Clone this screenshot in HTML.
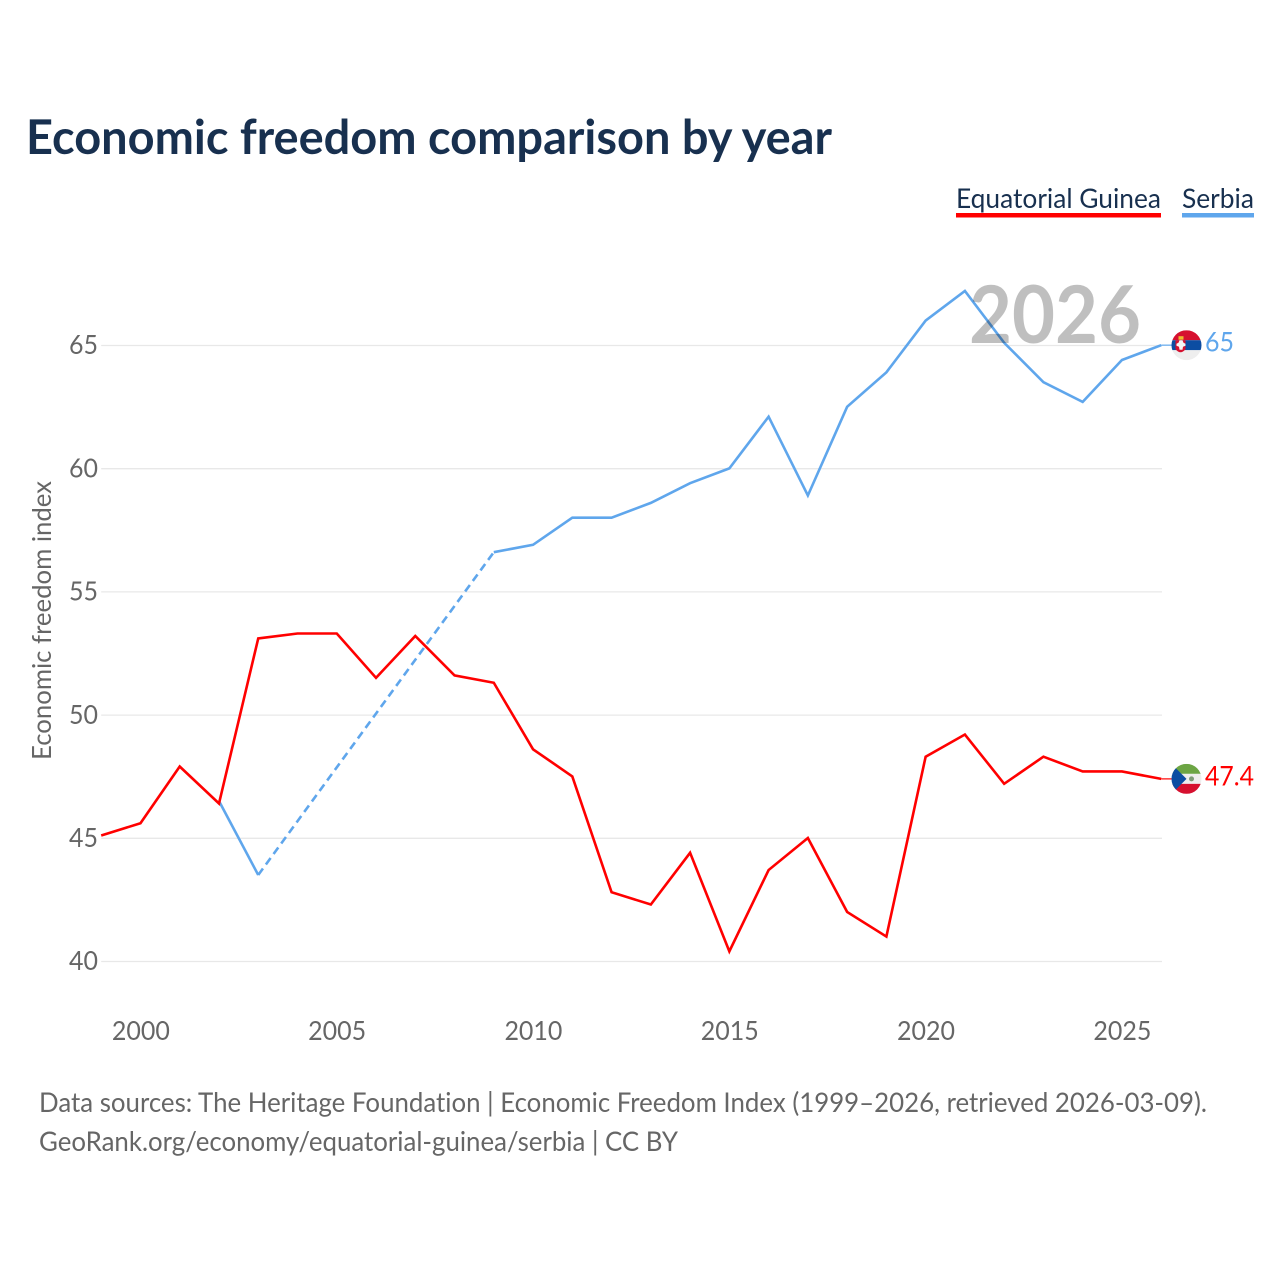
<!DOCTYPE html>
<html lang="en">
<head>
<meta charset="utf-8">
<title>Economic freedom comparison by year</title>
<style>
html,body{margin:0;padding:0;background:#fff}
svg{display:block}
text{font-family:"Lato","Carlito","Liberation Sans",sans-serif;font-variant-ligatures:none;font-feature-settings:"liga" 0,"clig" 0}
</style>
</head>
<body>
<svg id="chart" xmlns="http://www.w3.org/2000/svg" width="1280" height="1280" viewBox="0 0 1280 1280">
  <defs>
    <clipPath id="flag-clip"><circle cx="0" cy="0" r="15"/></clipPath>
  </defs>
  <rect width="1280" height="1280" fill="#fff"/>
  <text x="26" y="154" font-size="48" font-weight="700" fill="#18304f" textLength="806" lengthAdjust="spacingAndGlyphs">Economic freedom comparison by year</text>

  <g>
    <text x="956" y="208" font-size="27" fill="#18304f" textLength="205" lengthAdjust="spacingAndGlyphs">Equatorial Guinea</text>
    <rect x="956" y="213" width="205" height="4.5" fill="#ff0000"/>
  </g>
  <g>
    <text x="1182" y="208" font-size="27" fill="#18304f" textLength="72" lengthAdjust="spacingAndGlyphs">Serbia</text>
    <rect x="1182" y="213" width="72" height="4.5" fill="#5fa6ec"/>
  </g>

  <text transform="translate(51,620.5) rotate(-90)" text-anchor="middle" font-size="26" fill="#666" textLength="279" lengthAdjust="spacingAndGlyphs">Economic freedom index</text>

  <g id="grid"></g>
  <g id="y-ticks"></g>
  <g id="x-ticks"></g>
  <g id="series"></g>

  <text x="969" y="343" font-size="80" font-weight="700" fill="#000" fill-opacity="0.25" textLength="172" lengthAdjust="spacingAndGlyphs">2026</text>

  <g id="end-markers">
    <g id="flag-serbia" clip-path="url(#flag-clip)">
      <rect x="-15" y="-15" width="30" height="10" fill="#d6102f"/>
      <rect x="-15" y="-5" width="30" height="10" fill="#0c4da2"/>
      <rect x="-15" y="5" width="30" height="10" fill="#eeeeee"/>
      <path d="M-11 -5h10v9q-5 6 -10 0z" fill="#d6102f"/>
      <path d="M-7 -5h3l1 2.500l2 1v2l-2.500 1l-.5 3h-3l-.5 -3l-2.500 -1v-2l2 -1z" fill="#f6f6f6"/>
      <rect x="-8" y="-9" width="5" height="3.500" fill="#edb92e"/>
    </g>
    <g id="flag-equatorial-guinea" clip-path="url(#flag-clip)">
      <rect x="-15" y="-15" width="30" height="10" fill="#6ca544"/>
      <rect x="-15" y="-5" width="30" height="10" fill="#eeeeee"/>
      <rect x="-15" y="5" width="30" height="10" fill="#d6102f"/>
      <path d="M-15 -15L0 0L-15 15z" fill="#0c4da2"/>
      <circle cx="5" cy="0" r="2.500" fill="#7f9c78"/>
    </g>
    <text id="value-serbia" font-size="27" fill="#5fa6ec"></text>
    <text id="value-equatorial-guinea" font-size="27" fill="#ff0000"></text>
  </g>

  <text x="39" y="1112" font-size="27" fill="#666" textLength="1168" lengthAdjust="spacingAndGlyphs">Data sources: The Heritage Foundation | Economic Freedom Index (1999–2026, retrieved 2026-03-09).</text>
  <text x="39" y="1151" font-size="27" fill="#666" textLength="639" lengthAdjust="spacingAndGlyphs">GeoRank.org/economy/equatorial-guinea/serbia | CC BY</text>

<script>
const years = [1999,2000,2001,2002,2003,2004,2005,2006,2007,2008,2009,2010,2011,2012,2013,2014,2015,2016,2017,2018,2019,2020,2021,2022,2023,2024,2025,2026];
const equatorialGuinea = [45.1,45.6,47.9,46.4,53.1,53.3,53.3,51.5,53.2,51.6,51.3,48.6,47.5,42.8,42.3,44.4,40.4,43.7,45.0,42.0,41.0,48.3,49.2,47.2,48.3,47.7,47.7,47.4];
const serbia = [null,null,null,46.5,43.5,null,null,null,null,null,56.6,56.9,58.0,58.0,58.6,59.4,60.0,62.1,58.9,62.5,63.9,66.0,67.2,65.1,63.5,62.7,64.4,65.0];
const yTicks = [40,45,50,55,60,65];
const xTicks = [2000,2005,2010,2015,2020,2025];
const valueEqGuinea = "47.4";
const valueSerbia = "65";

const NS = 'http://www.w3.org/2000/svg';
const plotLeft = 101.2, plotRight = 1161.2;
const xScale = function (yr) { return plotLeft + (yr - 1999) * (plotRight - plotLeft) / 27; };
const yScale = function (v) { return 961.2 - (v - 40) * 24.64; };

const grid = document.getElementById('grid');
const yG = document.getElementById('y-ticks');
const xG = document.getElementById('x-ticks');
const seriesG = document.getElementById('series');

yTicks.forEach(function (t) {
  const l = document.createElementNS(NS, 'line');
  
  
  l.setAttribute('x1', plotLeft);
  l.setAttribute('x2', 1162);
  l.setAttribute('y1', yScale(t) + 0.3);
  l.setAttribute('y2', yScale(t) + 0.3);
  l.setAttribute('stroke', '#e8e8e8');
  l.setAttribute('stroke-width', '1.3');
  grid.appendChild(l);
  const s = document.createElementNS(NS, 'text');
  
  
  s.setAttribute('x', 98);
  s.setAttribute('y', yScale(t) + 9);
  s.setAttribute('text-anchor', 'end');
  s.setAttribute('font-size', '26');
  s.setAttribute('fill', '#666');
  s.setAttribute('textLength', '29');
  s.setAttribute('lengthAdjust', 'spacingAndGlyphs');
  s.textContent = t;
  yG.appendChild(s);
});

xTicks.forEach(function (t) {
  const s = document.createElementNS(NS, 'text');
  
  
  s.setAttribute('x', xScale(t) + 0.4);
  s.setAttribute('y', 1040);
  s.setAttribute('text-anchor', 'middle');
  s.setAttribute('font-size', '26');
  s.setAttribute('fill', '#666');
  s.setAttribute('textLength', '58');
  s.setAttribute('lengthAdjust', 'spacingAndGlyphs');
  s.textContent = t;
  xG.appendChild(s);
});

function drawSeries(values, color, name) {
  let run = [];
  let prevEnd = null;
  function flush() {
    if (run.length > 1) {
      const p = document.createElementNS(NS, 'polyline');
      
      
      p.setAttribute('points', run.join(' '));
      p.setAttribute('fill', 'none');
      p.setAttribute('stroke', color);
      p.setAttribute('stroke-width', '2.6');
      p.setAttribute('stroke-linejoin', 'miter');
      seriesG.appendChild(p);
    }
    run = [];
  }
  values.forEach(function (v, i) {
    if (v === null) {
      flush();
      return;
    }
    const pt = xScale(years[i]) + ',' + yScale(v);
    if (run.length === 0 && prevEnd !== null) {
      const d = document.createElementNS(NS, 'polyline');
      
      
      d.setAttribute('points', prevEnd + ' ' + pt);
      d.setAttribute('fill', 'none');
      d.setAttribute('stroke', color);
      d.setAttribute('stroke-width', '2.6');
      d.setAttribute('stroke-dasharray', '8 5');
      seriesG.appendChild(d);
    }
    run.push(pt);
    prevEnd = pt;
  });
  flush();
}

function drawEnd(values, color, flagId, labelId, labelText, name, labelWidth, flagDy, labelDy) {
  const v = values[values.length - 1];
  const y = yScale(v);
  const c = document.createElementNS(NS, 'line');
  
  
  c.setAttribute('x1', plotRight);
  c.setAttribute('x2', 1172);
  c.setAttribute('y1', y);
  c.setAttribute('y2', y);
  c.setAttribute('stroke', color);
  c.setAttribute('stroke-width', '1.5');
  c.setAttribute('stroke-opacity', '0.8');
  seriesG.appendChild(c);
  document.getElementById(flagId).setAttribute('transform', 'translate(1186.5,' + (y + flagDy) + ')');
  const t = document.getElementById(labelId);
  t.setAttribute('x', 1205);
  t.setAttribute('y', y + labelDy);
  t.setAttribute('textLength', labelWidth);
  t.setAttribute('lengthAdjust', 'spacingAndGlyphs');
  t.textContent = labelText;
}

drawSeries(serbia, '#5fa6ec', 'serbia');
drawSeries(equatorialGuinea, '#ff0000', 'equatorial-guinea');
drawEnd(serbia, '#5fa6ec', 'flag-serbia', 'value-serbia', valueSerbia, 'serbia', 29, 0, 6.5);
drawEnd(equatorialGuinea, '#ff0000', 'flag-equatorial-guinea', 'value-equatorial-guinea', valueEqGuinea, 'equatorial-guinea', 49, 0, 6.5);
</script>
</svg>
</body>
</html>
